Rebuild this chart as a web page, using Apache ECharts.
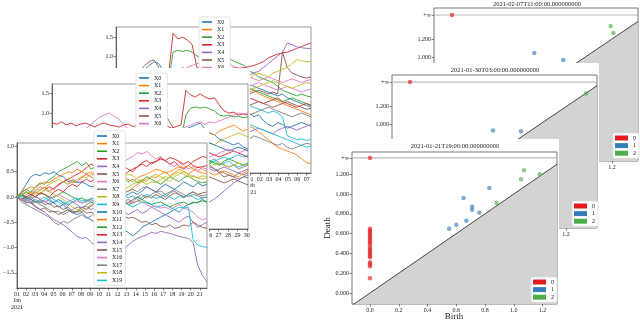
<!DOCTYPE html>
<html><head><meta charset="utf-8">
<script src="https://cdn.jsdelivr.net/npm/echarts@6/dist/echarts.min.js"></script>
<style>html,body{margin:0;padding:0;background:#fff}#c{width:640px;height:322px}</style>
</head><body><div id="c"></div>
<script>
// ---------------- DATA ----------------
// time windows (days counted from 1 = 2021-01-01 00:00)
const windowDays = 20.79;
const startA = 17.667;  // ends 2021-02-07T11:00
const startB = 9.333;   // ends 2021-01-30T03:00
const startC = 1;       // ends 2021-01-21T19:00
const seriesNames = ['X0','X1','X2','X3','X4','X5','X6','X7','X8','X9','X10','X11','X12','X13','X14','X15','X16','X17','X18','X19'];
const ticksA = [18,19,20,21,22,23,24,25,26,27,28,29,30,31,32,33,34,35,36,37,38];
const ticksB = [10,11,12,13,14,15,16,17,18,19,20,21,22,23,24,25,26,27,28,29,30];
const ticksC = [1,2,3,4,5,6,7,8,9,10,11,12,13,14,15,16,17,18,19,20,21];
const yTicksTS = [-2,-1.5,-1,-0.5,0,0.5,1,1.5];

// Panel C (front, 2021-01-01 .. 2021-01-21)
const C_X0 = [0,0.1,0.25,0.4,0.45,0.42,0.48,0.45,0.5,0.43,0.4,0.3,0.32,0.28,0.3,0.25,0.2,0.22,0.15,0.1,0.12,0.05,0.08,0.0,0.05,0.1,0.05,0.12,0.2,0.15,0.1,0.18,0.25,0.2,0.15,0.22,0.3,0.25,0.2,0.28,0.22,0.25];
const C_X1 = [0,-0.05,0.05,0.1,0.05,0.15,0.2,0.12,0.18,0.25,0.3,0.35,0.28,0.3,0.4,0.45,0.5,0.42,0.35,0.3,0.25,0.3,0.2,0.15,0.1,0.18,0.25,0.3,0.35,0.4,0.38,0.45,0.5,0.42,0.48,0.55,0.5,0.45,0.52,0.6,0.55,0.5];
const C_X2 = [0,0.08,0.15,0.1,0.2,0.28,0.25,0.35,0.4,0.5,0.55,0.6,0.65,0.7,0.62,0.68,0.55,0.6,0.5,0.45,0.4,0.35,0.42,0.38,0.3,0.35,0.28,0.32,0.4,0.35,0.3,0.25,0.32,0.4,0.35,0.3,0.38,0.42,0.35,0.3,0.28,0.3];
const C_X3 = [0,0.05,-0.05,0.02,0.1,0.05,0.15,0.2,0.15,0.25,0.3,0.35,0.4,0.45,0.5,0.58,0.65,0.6,0.55,0.5,0.45,0.4,0.35,0.42,0.5,0.55,0.6,0.68,0.72,0.65,0.7,0.78,0.72,0.65,0.7,0.6,0.55,0.62,0.7,0.75,0.8,0.78];
const C_X4 = [0,-0.05,0.0,-0.1,-0.05,-0.12,-0.08,-0.15,-0.1,-0.05,-0.12,-0.18,-0.1,-0.15,-0.22,-0.18,-0.25,-0.2,-0.15,-0.22,-0.3,-0.25,-0.2,-0.28,-0.35,-0.3,-0.25,-0.32,-0.28,-0.2,-0.25,-0.3,-0.35,-0.4,-0.45,-0.5,-0.42,-0.38,-0.5,-0.6,-0.55,-0.5];
const C_X5 = [0,-0.05,-0.12,-0.1,-0.18,-0.25,-0.22,-0.3,-0.28,-0.35,-0.3,-0.25,-0.32,-0.28,-0.2,-0.25,-0.18,-0.12,-0.15,-0.1,-0.05,-0.1,-0.15,-0.08,-0.12,-0.05,0.0,-0.05,0.02,-0.02,0.05,0.0,-0.05,0.02,0.08,0.05,0.0,0.05,0.1,0.05,0.08,0.1];
const C_X6 = [0,0.05,0.1,0.05,0.12,0.2,0.15,0.1,0.18,0.22,0.3,0.25,0.35,0.3,0.38,0.45,0.4,0.5,0.55,0.6,0.65,0.58,0.62,0.7,0.75,0.8,0.88,0.85,0.9,0.82,0.75,0.8,0.7,0.65,0.6,0.68,0.62,0.55,0.6,0.52,0.58,0.55];
const C_X7 = [0,-0.1,-0.15,-0.2,-0.25,-0.3,-0.35,-0.4,-0.5,-0.55,-0.48,-0.52,-0.45,-0.4,-0.35,-0.42,-0.38,-0.3,-0.25,-0.2,-0.15,-0.2,-0.12,-0.1,-0.05,-0.1,0.0,0.05,-0.02,0.05,0.1,0.05,0.0,0.08,0.12,0.05,0.0,0.05,0.1,0.05,0.02,0.05];
const C_X8 = [0,0.05,-0.05,0.0,0.1,0.05,0.15,0.1,0.05,0.0,-0.05,-0.12,-0.2,-0.25,-0.3,-0.22,-0.15,-0.1,-0.05,0.0,0.05,0.1,0.15,0.12,0.2,0.25,0.3,0.35,0.3,0.4,0.45,0.4,0.35,0.3,0.4,0.45,0.5,0.45,0.4,0.38,0.42,0.4];
const C_X9 = [0,-0.02,-0.08,-0.05,-0.1,-0.05,0.0,-0.08,-0.12,-0.05,-0.1,-0.15,-0.1,-0.05,-0.12,-0.08,-0.02,-0.05,0.0,-0.05,-0.1,-0.05,0.0,0.05,-0.02,0.02,-0.05,0.0,0.05,0.02,-0.03,0.0,0.05,0.0,-0.05,0.02,-0.02,0.05,0.0,-0.05,-0.02,0.0];
const C_X10 = [0,0.05,0.0,-0.05,0.02,-0.05,-0.1,-0.05,-0.12,-0.2,-0.15,-0.25,-0.3,-0.35,-0.3,-0.4,-0.45,-0.5,-0.45,-0.55,-0.5,-0.6,-0.55,-0.65,-0.7,-0.77,-0.7,-0.6,-0.55,-0.5,-0.45,-0.4,-0.35,-0.3,-0.25,-0.3,-0.2,-0.15,-0.1,-0.12,-0.05,-0.1];
const C_X11 = [0,0.1,0.15,0.2,0.18,0.25,0.3,0.28,0.35,0.4,0.45,0.5,0.48,0.55,0.5,0.45,0.4,0.35,0.4,0.45,0.42,0.5,0.45,0.4,0.35,0.3,0.38,0.42,0.45,0.5,0.55,0.52,0.48,0.5,0.55,0.6,0.58,0.62,0.55,0.5,0.48,0.45];
const C_X12 = [0,0.02,0.1,0.05,0.0,0.08,0.05,-0.02,0.0,0.05,0.1,0.05,0.0,-0.05,-0.02,-0.08,-0.05,-0.12,-0.1,-0.15,-0.12,-0.1,-0.05,-0.1,-0.15,-0.12,-0.08,-0.05,-0.1,-0.15,-0.12,-0.1,-0.15,-0.2,-0.15,-0.12,-0.1,-0.15,-0.12,-0.1,-0.08,-0.1];
const C_X13 = [0,-0.05,0.0,0.05,0.0,0.08,0.05,0.0,0.1,0.15,0.1,0.2,0.25,0.2,0.3,0.35,0.3,0.38,0.4,0.45,0.5,0.45,0.55,0.6,0.55,0.5,0.6,0.65,0.6,0.68,0.7,0.75,0.72,0.78,0.75,0.7,0.65,0.7,0.62,0.58,0.6,0.62];
const C_X14 = [0,-0.05,-0.1,-0.12,-0.2,-0.25,-0.3,-0.38,-0.45,-0.5,-0.55,-0.62,-0.7,-0.78,-0.82,-0.8,-0.9,-0.95,-1.0,-1.05,-1.02,-1.08,-1.0,-1.05,-0.95,-0.88,-0.82,-0.78,-0.75,-0.7,-0.72,-0.68,-0.7,-0.72,-0.75,-0.78,-0.8,-0.82,-0.9,-1.35,-1.55,-1.68];
const C_X15 = [0,0.05,-0.02,-0.05,-0.1,-0.08,-0.15,-0.12,-0.2,-0.18,-0.25,-0.2,-0.28,-0.3,-0.25,-0.32,-0.3,-0.35,-0.3,-0.28,-0.32,-0.35,-0.3,-0.38,-0.42,-0.4,-0.45,-0.5,-0.48,-0.55,-0.52,-0.58,-0.6,-0.55,-0.62,-0.6,-0.55,-0.58,-0.5,-0.55,-0.6,-0.62];
const C_X16 = [0,-0.05,-0.08,-0.02,0.0,-0.05,-0.1,-0.05,0.0,0.05,0.0,-0.05,-0.1,-0.08,-0.12,-0.1,-0.05,-0.1,-0.15,-0.12,-0.18,-0.15,-0.2,-0.15,-0.1,-0.12,-0.08,-0.1,-0.15,-0.2,-0.18,-0.22,-0.2,-0.25,-0.2,-0.15,-0.22,-0.25,-0.3,-0.4,-0.45,-0.42];
const C_X17 = [0,-0.08,-0.05,-0.12,-0.1,-0.15,-0.2,-0.25,-0.3,-0.28,-0.35,-0.3,-0.25,-0.2,-0.22,-0.15,-0.1,-0.12,-0.05,-0.08,0.0,0.05,0.1,0.05,0.12,0.15,0.1,0.18,0.2,0.15,0.1,0.12,0.05,0.1,0.15,0.1,0.05,0.0,0.05,0.02,-0.02,0.0];
const C_X18 = [0,0.05,0.1,0.08,0.15,0.12,0.2,0.25,0.3,0.35,0.3,0.25,0.3,0.35,0.4,0.38,0.45,0.5,0.45,0.4,0.35,0.3,0.35,0.4,0.45,0.42,0.35,0.3,0.25,0.3,0.28,0.35,0.4,0.38,0.45,0.5,0.45,0.4,0.42,0.38,0.35,0.38];
const C_X19 = [0,0.02,-0.05,0.0,-0.08,-0.12,-0.05,0.0,-0.05,-0.1,-0.15,-0.1,-0.05,-0.02,-0.08,-0.05,-0.1,-0.15,-0.12,-0.18,-0.15,-0.1,-0.05,-0.1,-0.15,-0.2,-0.15,-0.1,-0.12,-0.15,-0.2,-0.18,-0.15,-0.2,-0.25,-0.2,-0.22,-0.2,-0.85,-0.95,-0.98,-1.0];

// Panel B (middle, ends 2021-01-30)
const B_X0 = [0.1,0.05,0.0,-0.05,0.05,0.1,0.0,-0.1,-0.05,0.0,0.1,0.05,-0.05,-0.1,0.0,0.1,0.2,0.15,0.1,0.2,0.3,0.25,0.2,0.3,0.4,0.5,0.45,0.55,0.6,0.65,0.7,0.75,0.6,0.5,0.45,0.35,0.3,0.25,0.2,0.25,0.15,0.1];
const B_X1 = [-0.2,-0.3,-0.25,-0.35,-0.4,-0.3,-0.35,-0.45,-0.5,-0.4,-0.35,-0.3,-0.4,-0.5,-0.45,-0.55,-0.5,-0.4,-0.35,-0.3,-0.2,-0.1,0.0,-0.05,0.05,0.1,0.0,-0.1,0.0,0.1,0.2,0.3,0.4,0.5,0.45,0.55,0.6,0.65,0.7,0.62,0.55,0.6];
const B_X2 = [0.2,0.1,0.15,0.05,0.0,0.1,0.05,-0.05,0.0,0.1,0.05,0.15,0.1,0.0,0.05,0.1,0.0,0.05,0.15,0.1,0.2,0.15,0.1,0.2,0.25,0.2,0.3,0.35,0.95,1.12,1.15,1.12,1.15,1.1,1.05,0.95,0.92,0.95,0.9,0.92,0.88,0.9];
const B_X3 = [0.75,0.72,0.78,0.7,0.75,0.68,0.72,0.75,0.7,0.65,0.72,0.75,0.7,0.68,0.65,0.7,0.72,0.66,0.7,0.68,0.62,0.66,0.6,0.64,0.68,0.62,0.66,0.7,1.57,1.45,1.4,1.48,1.4,1.35,1.38,1.2,1.05,1.0,1.02,0.95,0.98,0.95];
const B_X4 = [0.0,-0.1,-0.05,0.05,0.0,-0.1,-0.15,-0.1,-0.2,-0.25,-0.2,-0.3,-0.35,-0.3,-0.25,-0.35,-0.4,-0.35,-0.3,-0.4,-0.45,-0.4,-0.35,-0.3,-0.25,-0.3,-0.35,-0.4,-0.45,-0.4,-0.35,-0.3,-0.35,-0.4,-0.45,-0.4,-0.35,-0.4,-0.45,-0.5,-0.45,-0.4];
const B_X5 = [0.1,0.05,0.15,0.2,0.1,0.15,0.05,0.1,0.2,0.15,0.25,0.2,0.15,0.1,0.2,0.15,0.1,0.2,0.25,0.3,0.35,0.5,0.65,0.8,0.9,0.7,0.5,0.3,0.2,0.1,0.0,-0.1,-0.2,-0.3,-0.4,-0.5,-0.6,-0.55,-0.6,-0.5,-0.55,-0.5];
const B_X6 = [0.3,0.35,0.3,0.4,0.45,0.5,0.55,0.6,0.7,0.8,0.9,0.95,1.0,0.92,0.85,0.7,0.6,0.5,0.45,0.55,0.6,0.5,0.45,0.55,0.6,0.5,0.55,0.6,0.65,0.7,0.75,0.78,0.72,0.78,0.75,0.8,0.85,0.9,0.95,1.0,0.98,1.0];
const B_X7 = [-0.3,-0.4,-0.35,-0.5,-0.45,-0.55,-0.6,-0.5,-0.45,-0.4,-0.5,-0.6,-0.55,-0.65,-0.7,-0.6,-0.55,-0.5,-0.45,-0.5,-0.4,-0.35,-0.3,-0.4,-0.35,-0.3,-0.25,-0.2,-0.3,-0.25,-0.2,-0.15,-0.1,-0.2,-0.15,-0.25,-0.3,-0.35,-0.3,-0.4,-0.35,-0.3];
const B_X8 = [0.0,0.05,-0.05,0.0,0.1,0.05,0.0,0.1,0.15,0.1,0.05,0.0,-0.1,-0.05,0.0,0.05,0.1,0.0,-0.05,0.0,0.1,0.15,0.2,0.1,0.05,0.1,0.15,0.2,0.25,0.3,0.35,0.4,0.3,0.25,0.2,0.3,0.35,0.4,0.45,0.5,0.45,0.4];
const B_X9 = [-0.5,-0.45,-0.55,-0.6,-0.5,-0.45,-0.4,-0.5,-0.55,-0.6,-0.65,-0.6,-0.55,-0.5,-0.6,-0.7,-0.65,-0.6,-0.5,-0.45,-0.4,-0.35,-0.3,-0.25,-0.3,-0.35,-0.2,-0.1,-0.15,-0.2,-0.1,-0.15,-0.2,-0.25,-0.2,-0.3,-0.25,-0.2,-0.3,-0.35,-0.3,-0.25];
const B_X10 = [-0.1,-0.2,-0.15,-0.3,-0.4,-0.35,-0.5,-0.6,-0.55,-0.7,-0.75,-0.7,-0.6,-0.5,-0.45,-0.4,-0.3,-0.35,-0.4,-0.3,-0.25,-0.2,-0.1,-0.15,-0.05,0.0,0.05,0.1,0.05,0.0,0.1,0.15,0.2,0.25,0.2,0.15,0.1,0.05,0.1,0.15,0.1,0.05];
const B_X11 = [0.0,0.1,0.05,0.15,0.1,0.0,-0.1,-0.05,0.0,0.1,0.2,0.15,0.1,0.0,0.05,0.1,0.15,0.2,0.1,0.05,0.0,-0.05,-0.1,-0.2,-0.25,-0.3,-0.35,-0.3,-0.4,-0.45,-0.5,-0.45,-0.4,-0.5,-0.55,-0.5,-0.45,-0.5,-0.55,-0.6,-0.5,-0.45];
const B_X12 = [-0.2,-0.25,-0.3,-0.2,-0.15,-0.1,-0.2,-0.25,-0.3,-0.35,-0.3,-0.25,-0.2,-0.3,-0.35,-0.4,-0.3,-0.25,-0.2,-0.15,-0.1,-0.15,-0.2,-0.25,-0.2,-0.15,-0.1,-0.05,-0.1,-0.15,-0.2,-0.15,-0.1,-0.2,-0.25,-0.3,-0.2,-0.15,-0.2,-0.25,-0.3,-0.28];
const B_X13 = [0.0,-0.1,-0.05,0.05,0.1,0.05,0.0,-0.05,0.0,0.1,0.05,0.0,-0.1,-0.05,0.0,0.05,0.1,0.15,0.1,0.2,0.15,0.1,0.0,0.05,0.1,0.15,0.2,0.1,0.05,0.0,0.1,0.15,0.05,0.0,-0.05,-0.1,-0.05,0.0,0.05,0.0,-0.05,-0.1];
const B_X14 = [-0.6,-0.7,-0.8,-0.75,-0.9,-1.0,-0.95,-1.05,-1.1,-1.0,-1.05,-1.15,-1.2,-1.1,-1.0,-1.05,-1.1,-1.0,-0.95,-1.05,-1.15,-1.2,-1.25,-1.3,-1.25,-1.3,-1.35,-1.3,-1.25,-1.3,-1.35,-1.3,-1.25,-1.22,-1.15,-1.05,-0.95,-0.85,-0.75,-0.68,-0.6,-0.55];
const B_X15 = [-0.3,-0.35,-0.4,-0.45,-0.5,-0.55,-0.5,-0.45,-0.55,-0.6,-0.65,-0.7,-0.75,-0.7,-0.65,-0.6,-0.55,-0.5,-0.55,-0.6,-0.55,-0.5,-0.45,-0.5,-0.55,-0.6,-0.65,-0.6,-0.55,-0.5,-0.45,-0.5,-0.55,-0.6,-0.65,-0.7,-0.75,-0.7,-0.65,-0.7,-0.75,-0.8];
const B_X16 = [0.1,0.15,0.2,0.15,0.1,0.2,0.25,0.2,0.15,0.1,0.05,0.1,0.0,-0.05,-0.1,-0.05,0.0,0.05,0.1,0.05,0.0,-0.05,-0.1,-0.15,-0.1,-0.05,0.0,0.05,0.0,-0.1,-0.15,-0.2,-0.15,-0.1,-0.05,0.0,0.05,0.1,0.05,0.0,0.05,0.1];
const B_X17 = [-0.1,-0.15,-0.1,-0.05,0.0,0.05,0.0,-0.05,-0.1,-0.15,-0.2,-0.15,-0.1,-0.2,-0.25,-0.3,-0.25,-0.2,-0.15,-0.1,-0.05,0.0,0.05,0.0,-0.05,-0.1,-0.05,0.0,-0.1,-0.15,-0.2,-0.25,-0.3,-0.35,-0.4,-0.45,-0.5,-0.55,-0.6,-0.65,-0.6,-0.62];
const B_X18 = [0.2,0.15,0.1,0.2,0.15,0.1,0.05,0.0,0.05,0.1,0.0,-0.05,-0.1,-0.15,-0.1,-0.05,0.0,0.05,0.0,-0.05,-0.1,-0.15,-0.2,-0.15,-0.1,-0.05,0.0,-0.05,-0.1,-0.15,-0.2,-0.25,-0.2,-0.25,-0.3,-0.25,-0.3,-0.35,-0.3,-0.25,-0.3,-0.28];
const B_X19 = [-0.3,-0.25,-0.2,-0.3,-0.35,-0.4,-0.45,-0.5,-0.6,-0.7,-0.8,-0.85,-0.9,-0.95,-0.9,-0.85,-0.9,-0.95,-1.0,-0.95,-0.9,-0.85,-0.8,-0.75,-0.7,-0.65,-0.6,-0.55,-0.5,-0.45,-0.4,-0.35,-0.3,-0.25,-0.2,-0.15,-0.1,-0.15,-0.1,-0.05,-0.1,-0.05];

// Panel A (back, ends 2021-02-07)
const A_X0 = [0.3,0.35,0.4,0.5,0.6,0.55,0.65,0.75,0.85,0.8,0.6,0.5,0.45,0.55,0.7,0.6,0.45,0.4,0.3,0.25,0.2,0.1,0.05,0.0,-0.1,-0.2,-0.3,-0.4,-0.5,-0.6,-0.55,-0.7,-0.8,-0.85,-0.75,-0.8,-0.9,-0.85,-0.8,-0.75,-0.8,-0.85];
const A_X1 = [0.0,-0.1,-0.05,0.05,0.1,0.0,-0.1,-0.2,-0.15,-0.1,-0.2,-0.3,-0.25,-0.35,-0.4,-0.3,-0.35,-0.45,-0.5,-0.4,-0.45,-0.5,-0.6,-0.55,-0.65,-0.7,-0.75,-0.8,-0.85,-0.9,-1.0,-1.1,-1.2,-1.3,-1.4,-1.45,-1.5,-1.55,-1.6,-1.7,-1.8,-1.84];
const A_X2 = [0.2,0.25,0.15,0.2,0.3,0.25,0.2,0.15,0.1,0.2,0.25,0.3,1.1,1.15,1.12,1.15,1.1,1.0,0.95,1.0,0.98,1.0,0.95,1.0,0.92,0.85,0.8,0.75,0.6,0.55,0.45,0.4,0.35,0.3,0.2,0.1,0.05,0.0,-0.05,0.0,-0.05,-0.08];
const A_X3 = [0.68,0.65,0.6,0.55,0.5,0.45,0.4,0.35,0.3,0.35,0.4,0.45,1.6,1.45,1.5,1.42,1.3,0.7,0.65,0.7,0.68,0.72,0.65,0.6,0.65,0.7,0.68,0.7,0.72,0.75,0.8,0.85,0.95,1.0,1.05,1.08,1.1,1.15,1.2,1.25,1.3,1.34];
const A_X4 = [0.0,0.05,0.1,0.0,-0.1,-0.05,0.0,0.1,0.15,0.1,0.0,-0.1,-0.05,0.0,0.1,0.2,0.15,0.2,0.3,0.25,0.2,0.3,0.35,0.4,0.35,0.3,0.4,0.45,0.5,0.55,0.6,0.7,0.8,0.9,1.0,1.1,1.34,1.3,1.24,1.22,1.2,1.2];
const A_X5 = [0.1,0.2,0.3,0.4,0.5,0.6,0.75,0.85,0.9,0.7,0.5,0.4,0.3,0.2,0.1,0.0,-0.1,-0.05,0.0,0.05,0.0,-0.1,-0.05,0.0,0.1,0.05,0.0,-0.05,0.0,0.05,0.1,0.05,0.0,0.05,0.0,1.1,0.7,0.55,0.5,0.45,0.42,0.45];
const A_X6 = [0.2,0.15,0.1,0.2,0.25,0.2,0.15,0.1,0.2,0.3,0.35,0.45,0.5,0.55,0.6,0.7,0.75,0.8,0.82,0.78,0.8,0.85,0.8,0.75,0.78,0.7,0.6,0.5,0.45,0.4,0.35,0.4,0.45,0.4,0.35,0.3,0.35,0.4,0.35,0.3,0.35,0.38];
const A_X7 = [-0.2,-0.3,-0.25,-0.35,-0.4,-0.5,-0.45,-0.55,-0.6,-0.5,-0.55,-0.65,-0.7,-0.75,-0.7,-0.8,-0.85,-0.9,-0.85,-0.95,-1.0,-0.95,-1.05,-1.1,-1.0,-1.05,-1.1,-1.15,-1.2,-1.1,-1.15,-1.2,-1.25,-1.3,-1.35,-1.3,-1.4,-1.45,-1.4,-1.35,-1.3,-1.32];
const A_X8 = [0.0,0.1,0.05,0.0,-0.05,0.0,0.1,0.05,0.0,-0.1,-0.05,0.0,0.05,0.1,0.15,0.1,0.2,0.25,0.2,0.15,0.2,0.25,0.3,0.35,0.3,0.35,0.4,0.45,0.4,0.5,0.55,0.5,0.45,0.55,0.6,0.65,0.7,0.8,0.9,0.88,0.85,0.85];
const A_X9 = [-0.1,-0.15,-0.2,-0.1,-0.05,-0.15,-0.2,-0.25,-0.3,-0.2,-0.25,-0.3,-0.35,-0.3,-0.25,-0.35,-0.4,-0.35,-0.3,-0.4,-0.45,-0.5,-0.45,-0.4,-0.5,-0.45,-0.4,-0.35,-0.3,-0.35,-0.4,-0.45,-0.5,-0.45,-0.5,-0.6,-1.1,-1.15,-1.2,-1.18,-1.22,-1.2];
const A_X10 = [0.1,0.05,0.0,-0.1,-0.05,0.05,0.1,0.0,-0.05,-0.1,0.0,0.05,0.0,-0.05,0.0,0.05,0.1,0.05,0.0,0.1,0.15,0.2,0.15,0.1,0.05,0.1,0.15,0.2,0.25,0.2,0.15,0.1,0.05,0.0,-0.05,0.0,-0.1,-0.15,-0.2,-0.25,-0.3,-0.35];
const A_X11 = [-0.3,-0.35,-0.4,-0.3,-0.25,-0.3,-0.35,-0.4,-0.3,-0.25,-0.2,-0.3,-0.35,-0.25,-0.2,-0.15,-0.1,-0.15,-0.2,-0.1,-0.05,0.0,-0.05,-0.1,-0.05,0.0,0.05,0.1,0.05,0.1,0.0,-0.05,-0.1,-0.15,-0.2,-0.25,-0.3,-0.35,-0.4,-0.45,-0.5,-0.55];
const A_X12 = [-0.5,-0.45,-0.4,-0.5,-0.55,-0.6,-0.5,-0.45,-0.4,-0.35,-0.4,-0.45,-0.5,-0.45,-0.4,-0.35,-0.3,-0.25,-0.2,-0.25,-0.3,-0.2,-0.15,-0.1,-0.05,0.0,0.05,0.1,0.15,0.1,0.05,0.0,-0.05,-0.1,-0.15,-0.2,-0.15,-0.1,-0.15,-0.2,-0.25,-0.3];
const A_X13 = [-0.2,-0.25,-0.2,-0.15,-0.1,-0.15,-0.2,-0.25,-0.2,-0.15,-0.1,-0.05,0.0,-0.05,-0.1,-0.05,0.0,0.05,0.0,-0.05,-0.1,-0.05,0.0,0.05,0.1,0.05,0.0,-0.05,-0.1,-0.15,-0.2,-0.25,-0.2,-0.15,-0.1,-0.2,-0.25,-0.3,-0.35,-0.3,-0.25,-0.3];
const A_X14 = [-1.2,-1.25,-1.3,-1.35,-1.3,-1.25,-1.2,-1.15,-1.2,-1.25,-1.3,-1.35,-1.4,-1.35,-1.3,-1.25,-1.2,-1.15,-1.1,-1.05,-1.0,-0.95,-1.0,-1.05,-1.0,-0.95,-0.9,-0.95,-1.0,-0.95,-0.9,-0.95,-1.0,-1.05,-0.95,-0.9,-0.85,-0.9,-0.95,-0.9,-0.85,-0.8];
const A_X15 = [-0.5,-0.55,-0.6,-0.55,-0.5,-0.45,-0.5,-0.55,-0.6,-0.65,-0.6,-0.55,-0.5,-0.55,-0.6,-0.65,-0.7,-0.65,-0.6,-0.55,-0.5,-0.45,-0.4,-0.35,-0.3,-0.35,-0.4,-0.35,-0.3,-0.25,-0.2,-0.25,-0.3,-0.35,-0.3,-0.25,-0.2,-0.25,-0.3,-0.35,-0.4,-0.38];
const A_X16 = [-0.3,-0.25,-0.2,-0.15,-0.2,-0.25,-0.3,-0.35,-0.3,-0.25,-0.2,-0.15,-0.1,-0.05,0.0,-0.05,-0.1,-0.15,-0.1,-0.05,0.0,0.05,0.1,0.15,0.1,0.05,0.1,0.15,0.2,0.25,0.3,0.25,0.2,0.15,0.1,0.15,0.2,0.15,0.1,0.05,0.1,0.12];
const A_X17 = [-0.6,-0.65,-0.7,-0.6,-0.55,-0.5,-0.55,-0.6,-0.65,-0.7,-0.75,-0.7,-0.65,-0.6,-0.55,-0.5,-0.45,-0.5,-0.55,-0.6,-0.65,-0.6,-0.55,-0.5,-0.45,-0.4,-0.45,-0.5,-0.55,-0.5,-0.45,-0.4,-0.35,-0.4,-0.45,-0.5,-0.55,-0.6,-0.55,-0.5,-0.55,-0.6];
const A_X18 = [-0.4,-0.35,-0.3,-0.35,-0.4,-0.45,-0.4,-0.35,-0.3,-0.25,-0.3,-0.35,-0.3,-0.25,-0.2,-0.15,-0.2,-0.25,-0.2,-0.15,-0.1,-0.15,-0.2,-0.15,-0.1,-0.05,0.0,0.05,0.1,0.15,0.2,0.25,0.3,0.35,0.3,0.25,0.2,0.15,0.2,0.25,0.3,0.28];
const A_X19 = [-0.8,-0.85,-0.9,-0.85,-0.8,-0.75,-0.7,-0.75,-0.8,-0.85,-0.9,-0.95,-1.0,-0.95,-0.9,-0.85,-0.8,-0.75,-0.7,-0.65,-0.6,-0.55,-0.5,-0.55,-0.6,-0.65,-0.7,-0.75,-0.8,-0.85,-0.9,-0.95,-1.0,-1.05,-1.1,-1.15,-1.2,-1.25,-1.3,-1.35,-1.4,-1.38];

// Persistence diagrams: [birth, death]; H0 bars born at 0
const pdTitles = ['2021-02-07T11:00:00.000000000','2021-01-30T03:00:00.000000000','2021-01-21T19:00:00.000000000'];
const pdDims = ['0','1','2'];
const pdXTicks = [0,0.2,0.4,0.6,0.8,1.0,1.2];
const pdYTicks = [0,0.2,0.4,0.6,0.8,1.0,1.2];
const D_H0 = [];
const D_H0inf = 1;
const D_H1 = [[0.617,1.044],[0.835,0.967]];
const D_H2 = [[1.19,1.344],[1.21,1.267]];
const E_H0 = [];
const E_H0inf = 1;
const E_H1 = [[0.638,0.93],[0.854,0.92]];
const E_H2 = [[1.354,1.35]];
const F_H0 = [0.65,0.63,0.61,0.59,0.57,0.55,0.53,0.51,0.49,0.46,0.44,0.42,0.40,0.38,0.36,0.31,0.29,0.27,0.15];
const F_H0inf = 1;
const F_H1 = [[0.55,0.65],[0.60,0.69],[0.67,0.73],[0.76,0.81],[0.71,0.84],[0.71,0.87],[0.65,0.96],[0.83,1.06]];
const F_H2 = [[0.88,0.91],[1.05,1.15],[1.07,1.24],[1.18,1.20]];

// ---------------- LAYOUT / STYLE ----------------
const tab10 = ['#1f77b4','#ff7f0e','#2ca02c','#d62728','#9467bd','#8c564b','#e377c2','#7f7f7f','#bcbd22','#17becf'];
const pdColors = ['#e41a1c','#377eb8','#4daf4a'];
const SERIF = 'Liberation Serif, DejaVu Serif, serif';
const pad2 = d => (d < 10 ? '0' : '') + d;

const tsPanels = [
  { rows:[A_X0,A_X1,A_X2,A_X3,A_X4,A_X5,A_X6,A_X7,A_X8,A_X9,A_X10,A_X11,A_X12,A_X13,A_X14,A_X15,A_X16,A_X17,A_X18,A_X19],
    start:startA, ticks:ticksA, y:[-2.079,1.763], grid:{left:116,top:27,width:195,height:146},
    legend:{left:199,top:17}, zl:0, img:null,
    fmt: d => d === 32 ? '01\nFeb\n2021' : (d > 31 ? pad2(d-31) : pad2(d)) },
  { rows:[B_X0,B_X1,B_X2,B_X3,B_X4,B_X5,B_X6,B_X7,B_X8,B_X9,B_X10,B_X11,B_X12,B_X13,B_X14,B_X15,B_X16,B_X17,B_X18,B_X19],
    start:startB, ticks:ticksB, y:[-1.9,1.725], grid:{left:52,top:84,width:196,height:145},
    legend:{left:136,top:73}, zl:1, img:[30,68,220,180],
    fmt: d => pad2(d) },
  { rows:[C_X0,C_X1,C_X2,C_X3,C_X4,C_X5,C_X6,C_X7,C_X8,C_X9,C_X10,C_X11,C_X12,C_X13,C_X14,C_X15,C_X16,C_X17,C_X18,C_X19],
    start:startC, ticks:ticksC, y:[-1.80,1.067], grid:{left:12,top:143,width:195,height:145},
    legend:{left:94,top:131}, zl:2, img:[0,128,209,194],
    fmt: d => d === 1 ? '01\nJan\n2021' : pad2(d) }
];

const pdPanels = [
  { h0:D_H0, h0inf:D_H0inf, h1:D_H1, h2:D_H2, x:[-0.135,1.395], y:[-0.156,1.544], inf:1.466,
    grid:{left:434,top:8,width:204,height:153}, legend:{left:613,top:133}, title:[537,4], zl:0, img:null },
  { h0:E_H0, h0inf:E_H0inf, h1:E_H1, h2:E_H2, x:[-0.138,1.438], y:[-0.18,1.56], inf:1.48,
    grid:{left:392,top:75,width:205,height:153}, legend:{left:572,top:201}, title:[495,70], zl:1, img:[362,63,237,182] },
  { h0:F_H0, h0inf:F_H0inf, h1:F_H1, h2:F_H2, x:[-0.125,1.30], y:[-0.111,1.424], inf:1.364,
    grid:{left:352,top:152,width:205,height:152}, legend:{left:531,top:277}, title:[455,146], zl:2, img:[322,139,237,183] }
];

const grids = [], xAxes = [], yAxes = [], legends = [], series = [], graphics = [];

tsPanels.forEach((p, pi) => {
  const gi = grids.length;
  if (p.img) graphics.push({type:'rect', zlevel:p.zl, z:-5, shape:{x:p.img[0],y:p.img[1],width:p.img[2],height:p.img[3]}, style:{fill:'#fff'}});
  grids.push(Object.assign({show:true, backgroundColor:'#fff', borderColor:'#999', borderWidth:1, zlevel:p.zl, z:-1}, p.grid));
  xAxes.push({type:'value', gridIndex:gi, zlevel:p.zl, min:p.start, max:p.start+windowDays,
    splitLine:{show:false}, axisLine:{show:true, onZero:false, lineStyle:{color:'#444', width:0.8}},
    axisTick:{show:true, customValues:p.ticks, length:2.5, lineStyle:{color:'#333', width:0.6}},
    axisLabel:{customValues:p.ticks, formatter:p.fmt, fontSize:6, lineHeight:6.5, margin:3, color:'#222', fontFamily:SERIF}});
  yAxes.push({type:'value', gridIndex:gi, zlevel:p.zl, min:p.y[0], max:p.y[1],
    splitLine:{show:false}, axisLine:{show:true, onZero:false, lineStyle:{color:'#444', width:0.8}},
    axisTick:{show:true, customValues:yTicksTS, length:2.5, lineStyle:{color:'#333', width:0.6}},
    axisLabel:{customValues:yTicksTS, formatter: v => (v < 0 ? '\u2212' : '') + Math.abs(v).toFixed(1), fontSize:6, margin:3, color:'#222', fontFamily:SERIF}});
  p.rows.forEach((row, k) => {
    series.push({type:'line', name:seriesNames[k], xAxisIndex:gi, yAxisIndex:gi, zlevel:p.zl, z:2,
      symbol:'none', silent:true, clip:true,
      lineStyle:{width:0.9, color:tab10[k % 10]}, itemStyle:{color:tab10[k % 10]},
      data: row.map((v, i) => [p.start + i * windowDays / (row.length - 1), v])});
  });
  legends.push({zlevel:p.zl, z:10, left:p.legend.left, top:p.legend.top, orient:'vertical', data:seriesNames,
    icon:'rect', itemWidth:10, itemHeight:1.6, itemGap:1.6, padding:[2,3,2,3], backgroundColor:'#fff', borderColor:'#ddd', borderWidth:0.8, borderRadius:2,
    textStyle:{fontSize:6, lineHeight:6, color:'#111', fontFamily:SERIF}, selectedMode:false});
});

pdPanels.forEach((p, pi) => {
  const gi = grids.length;
  if (p.img) graphics.push({type:'rect', zlevel:p.zl, z:-5, shape:{x:p.img[0],y:p.img[1],width:p.img[2],height:p.img[3]}, style:{fill:'#fff'}});
  graphics.push({type:'text', zlevel:p.zl, z:10, x:p.title[0], y:p.title[1],
    style:{text:pdTitles[pi], font:'6.5px ' + SERIF, fill:'#222', textAlign:'center', textVerticalAlign:'middle'}});
  grids.push(Object.assign({show:true, backgroundColor:'#fff', borderColor:'#777', borderWidth:1, zlevel:p.zl, z:-1}, p.grid));
  xAxes.push({type:'value', gridIndex:gi, zlevel:p.zl, min:p.x[0], max:p.x[1], splitLine:{show:false},
    axisLine:{show:false, onZero:false}, axisTick:{show:true, customValues:pdXTicks, length:2.5, lineStyle:{color:'#333', width:0.6}},
    axisLabel:{customValues:pdXTicks, formatter: v => v.toFixed(1), fontSize:6, margin:3, color:'#222', fontFamily:SERIF}});
  const yt = pdYTicks.concat([p.inf]);
  yAxes.push({type:'value', gridIndex:gi, zlevel:p.zl, min:p.y[0], max:p.y[1], splitLine:{show:false},
    axisLine:{show:false, onZero:false}, axisTick:{show:true, customValues:yt, length:2.5, lineStyle:{color:'#333', width:0.6}},
    axisLabel:{customValues:yt, formatter: v => Math.abs(v - p.inf) < 1e-6 ? '+\u221e' : v.toFixed(3), fontSize:6, margin:3, color:'#222', fontFamily:SERIF}});
  // region below the diagonal
  series.push({type:'line', xAxisIndex:gi, yAxisIndex:gi, zlevel:p.zl, z:1, symbol:'none', silent:true,
    data:[[p.x[0], p.x[0]], [p.x[1], p.x[1]]], lineStyle:{color:'#333', width:0.9},
    areaStyle:{color:'#d3d3d3', opacity:1, origin:'start'}});
  // +inf line
  series.push({type:'line', xAxisIndex:gi, yAxisIndex:gi, zlevel:p.zl, z:1, symbol:'none', silent:true,
    data:[[p.x[0], p.inf], [p.x[1], p.inf]], lineStyle:{color:'#bbb', width:1.2}});
  const h0pts = p.h0.map(d => [0, d]);
  for (let i = 0; i < p.h0inf; i++) h0pts.push([0, p.inf]);
  [h0pts, p.h1, p.h2].forEach((pts, dim) => {
    series.push({type:'scatter', name:pdDims[dim], xAxisIndex:gi, yAxisIndex:gi, zlevel:p.zl, z:3,
      symbolSize:4.5, silent:true, itemStyle:{color:pdColors[dim], opacity:0.65}, data:pts});
  });
  legends.push({zlevel:p.zl, z:10, left:p.legend.left, top:p.legend.top, orient:'vertical', data:pdDims, icon:'rect',
    itemWidth:13, itemHeight:5, itemGap:1.6, padding:[2,3,2,2], backgroundColor:'#fff', borderColor:'#ddd', borderWidth:0.8, borderRadius:2,
    itemStyle:{opacity:1}, textStyle:{fontSize:6, lineHeight:6, color:'#111', fontFamily:SERIF}, selectedMode:false});
});

// axis names of the front persistence diagram
graphics.push({type:'text', zlevel:2, z:10, x:454, y:317, style:{text:'Birth', font:'9px ' + SERIF, fill:'#222', textAlign:'center', textVerticalAlign:'middle'}});
graphics.push({type:'text', zlevel:2, z:10, x:328, y:228, rotation:Math.PI/2, style:{text:'Death', font:'9px ' + SERIF, fill:'#222', textAlign:'center', textVerticalAlign:'middle'}});

const chart = echarts.init(document.getElementById('c'), null, {renderer:'canvas'});
chart.setOption({
  animation:false, backgroundColor:'#fff',
  grid:grids, xAxis:xAxes, yAxis:yAxes, legend:legends, series:series, graphic:graphics
});
</script></body></html>
